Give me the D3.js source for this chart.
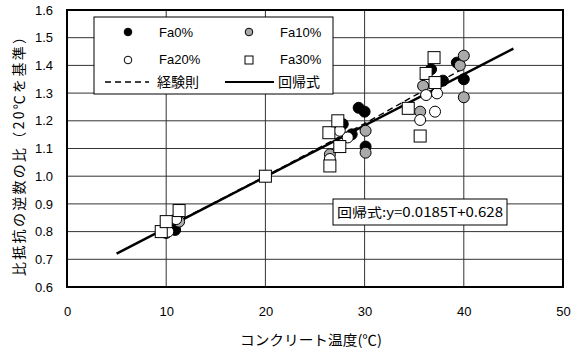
<!DOCTYPE html>
<html>
<head>
<meta charset="utf-8">
<script src="https://cdn.jsdelivr.net/npm/d3@7/dist/d3.min.js"></script>
<style>
  html, body { margin: 0; padding: 0; background: #fff; }
  svg { display: block; }
  text { font-family: "Liberation Sans", Arial, "Noto Sans CJK JP", sans-serif; fill: #000; }
  .jp { font-family: "Noto Sans CJK JP", "Liberation Sans", sans-serif; }
</style>
</head>
<body>
<svg id="chart" width="573" height="350"></svg>
<script>
// Concrete temperature (°C) vs. ratio of inverse resistivity (20°C = 1.0)
const xTicks = [0, 10, 20, 30, 40, 50];
const yTicks = [0.6, 0.7, 0.8, 0.9, 1.0, 1.1, 1.2, 1.3, 1.4, 1.5, 1.6];

// Fa0%
const fa0T = [10.9, 20, 27.8, 28.7, 29.4, 30.0, 30.1, 36.7, 37.9, 39.3, 40.0];
const fa0V = [0.806, 1.0, 1.188, 1.151, 1.247, 1.233, 1.107, 1.386, 1.345, 1.41, 1.35];
// Fa10%
const fa10T = [10.0, 11.3, 20, 26.5, 30.1, 30.1, 35.6, 35.9, 39.6, 40.0, 40.0];
const fa10V = [0.795, 0.836, 1.0, 1.079, 1.164, 1.085, 1.233, 1.326, 1.40, 1.435, 1.285];
// Fa20%
const fa20T = [10.2, 11.0, 20, 26.5, 27.5, 28.3, 35.6, 36.2, 37.3, 37.1];
const fa20V = [0.80, 0.845, 1.0, 1.062, 1.164, 1.14, 1.203, 1.293, 1.299, 1.233];
// Fa30%
const fa30T = [9.5, 10.0, 11.3, 20, 26.4, 27.3, 27.5, 26.5, 34.4, 35.6, 36.2, 37.1, 37.0];
const fa30V = [0.80, 0.836, 0.876, 1.0, 1.157, 1.200, 1.107, 1.037, 1.245, 1.145, 1.371, 1.338, 1.428];

// Empirical rule (経験則)
const empT = [10, 20, 30, 40];
const empV = [0.815, 1.0, 1.19, 1.39];

// Regression: y = 0.0185T + 0.628, drawn over 5–45 °C
const regSlope = 0.0185;
const regIntercept = 0.628;
const regRange = [5, 45];

const svg = d3.select("#chart");
const plotL = 67, plotR = 563, plotT = 10, plotB = 287;

const x = d3.scaleLinear().domain([0, 50]).range([plotL, plotR]);
const y = d3.scaleLinear().domain([0.6, 1.6]).range([plotB, plotT]);

// gridlines
svg.append("g").selectAll("line").data(yTicks).join("line")
  .attr("x1", plotL).attr("x2", plotR)
  .attr("y1", d => y(d)).attr("y2", d => y(d))
  .attr("stroke", "#333").attr("stroke-width", 1);
svg.append("g").selectAll("line").data(xTicks).join("line")
  .attr("y1", plotT).attr("y2", plotB)
  .attr("x1", d => x(d)).attr("x2", d => x(d))
  .attr("stroke", "#333").attr("stroke-width", 1);

// axes (labels only; frame drawn separately)
const xAxis = d3.axisBottom(x).tickValues(xTicks).tickSize(0).tickPadding(20).tickFormat(d3.format("d"));
const gx = svg.append("g").attr("transform", `translate(0,${plotB})`).call(xAxis);
gx.select(".domain").remove();
gx.selectAll("text").attr("font-size", 13).attr("font-family", "Liberation Sans, Arial, sans-serif");

const yAxis = d3.axisLeft(y).tickValues(yTicks).tickSize(0).tickPadding(14).tickFormat(d3.format(".1f"));
const gy = svg.append("g").attr("transform", `translate(${plotL},0)`).call(yAxis);
gy.select(".domain").remove();
gy.selectAll("text").attr("font-size", 13).attr("font-family", "Liberation Sans, Arial, sans-serif");

// regression line
const regPts = regRange.map(t => [t, regSlope * t + regIntercept]);
const line = d3.line().x(d => x(d[0])).y(d => y(d[1]));
svg.append("path").attr("d", line(regPts))
  .attr("fill", "none").attr("stroke", "#000").attr("stroke-width", 2.5);

// empirical rule
svg.append("path").attr("d", line(empT.map((t, i) => [t, empV[i]])))
  .attr("fill", "none").attr("stroke", "#000").attr("stroke-width", 1.4)
  .attr("stroke-dasharray", "6,4");

// markers
function circles(ts, vs, fill) {
  svg.append("g").selectAll("circle").data(ts.map((t, i) => [t, vs[i]])).join("circle")
    .attr("cx", d => x(d[0])).attr("cy", d => y(d[1])).attr("r", 5.5)
    .attr("fill", fill).attr("stroke", "#000").attr("stroke-width", 1);
}
circles(fa0T, fa0V, "#000");
circles(fa10T, fa10V, "#aaaaaa");
circles(fa20T, fa20V, "#fff");
svg.append("g").selectAll("rect").data(fa30T.map((t, i) => [t, fa30V[i]])).join("rect")
  .attr("x", d => x(d[0]) - 6).attr("y", d => y(d[1]) - 6)
  .attr("width", 12).attr("height", 12)
  .attr("fill", "#fff").attr("stroke", "#000").attr("stroke-width", 1);

// plot frame
svg.append("rect").attr("x", plotL).attr("y", plotT)
  .attr("width", plotR - plotL).attr("height", plotB - plotT)
  .attr("fill", "none").attr("stroke", "#000").attr("stroke-width", 2);

// legend
const lg = svg.append("g");
lg.append("rect").attr("x", 94).attr("y", 17).attr("width", 239).attr("height", 77)
  .attr("fill", "#fff").attr("stroke", "#000").attr("stroke-width", 1);
lg.append("circle").attr("cx", 128).attr("cy", 32).attr("r", 3.8).attr("fill", "#000").attr("stroke", "#000");
lg.append("circle").attr("cx", 249).attr("cy", 32).attr("r", 3.8).attr("fill", "#aaaaaa").attr("stroke", "#000");
lg.append("circle").attr("cx", 128).attr("cy", 60).attr("r", 3.8).attr("fill", "#fff").attr("stroke", "#000");
lg.append("rect").attr("x", 245).attr("y", 56).attr("width", 8).attr("height", 8).attr("fill", "#fff").attr("stroke", "#000");
lg.append("line").attr("x1", 105).attr("x2", 149).attr("y1", 82).attr("y2", 82)
  .attr("stroke", "#000").attr("stroke-width", 1.4).attr("stroke-dasharray", "6,4");
lg.append("line").attr("x1", 225).attr("x2", 274).attr("y1", 82).attr("y2", 82)
  .attr("stroke", "#000").attr("stroke-width", 2);
const legTxt = [
  ["Fa0%", 159, 37], ["Fa10%", 280, 37],
  ["Fa20%", 159, 64], ["Fa30%", 280, 64]
];
lg.selectAll("text.l").data(legTxt).join("text").attr("class", "l")
  .attr("x", d => d[1]).attr("y", d => d[2]).attr("font-size", 13).text(d => d[0]);
lg.append("text").attr("class", "jp").attr("x", 157).attr("y", 87).attr("font-size", 14).text("経験則");
lg.append("text").attr("class", "jp").attr("x", 278).attr("y", 87).attr("font-size", 14).text("回帰式");

// regression equation box
svg.append("rect").attr("x", 333).attr("y", 199).attr("width", 174).attr("height", 26)
  .attr("fill", "#fff").attr("stroke", "#000").attr("stroke-width", 1);
svg.append("text").attr("class", "jp").attr("x", 337).attr("y", 217).attr("font-size", 13)
  .attr("textLength", 166).attr("lengthAdjust", "spacingAndGlyphs")
  .text("回帰式:y=0.0185T+0.628");

// axis titles
svg.append("text").attr("class", "jp").attr("x", 311).attr("y", 345)
  .attr("text-anchor", "middle").attr("font-size", 14)
  .attr("textLength", 142).attr("lengthAdjust", "spacingAndGlyphs")
  .text("コンクリート温度(℃)");
svg.append("text").attr("class", "jp")
  .attr("transform", "translate(24,153) rotate(-90)")
  .attr("text-anchor", "middle").attr("font-size", 14)
  .attr("textLength", 246).attr("lengthAdjust", "spacing")
  .text("比抵抗の逆数の比（20℃を基準）");
</script>
</body>
</html>
